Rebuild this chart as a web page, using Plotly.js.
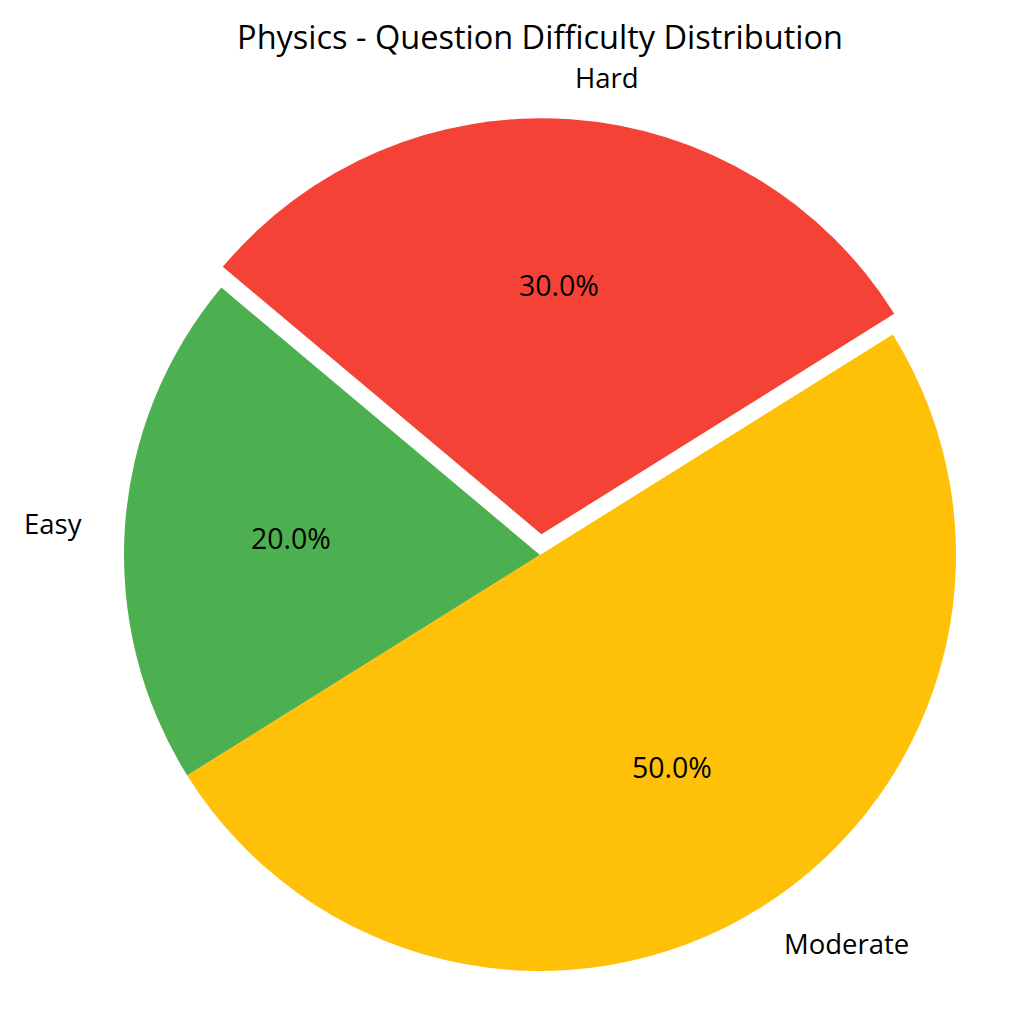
<!DOCTYPE html>
<html>
<head>
<meta charset="utf-8">
<script src="https://cdn.plot.ly/plotly-3.0.1.min.js"></script>
<style>html,body{margin:0;padding:0;background:#fff;}#chart{width:1024px;height:1024px;}</style>
</head>
<body>
<div id="chart"></div>
<script>
const categories = ["Easy", "Moderate", "Hard"];
const values = [20, 50, 30];
const colors = ["#4CAF50", "#FFC107", "#F44336"];
const pulls = [0, 0, 0.05];
const titleText = "Physics - Question Difficulty Distribution";

const W = 1024, H = 1024;
const CX = 540, CY = 555, R = 416;
const START = 140; // degrees, counterclockwise from 3 o'clock
const FONT = "'Open Sans', Roboto, sans-serif";
const maxPull = Math.max(...pulls);
const half = R * (1 + maxPull);

const total = values.reduce((a, b) => a + b, 0);
const annotations = [];
let ang = START;
values.forEach((v, i) => {
  const span = v / total * 360;
  const mid = (ang + span / 2) * Math.PI / 180;
  const off = pulls[i] * R;
  const cx = CX + off * Math.cos(mid), cy = CY - off * Math.sin(mid);
  const lx = cx + 1.1 * R * Math.cos(mid), ly = cy - 1.1 * R * Math.sin(mid);
  const px = cx + 0.6 * R * Math.cos(mid), py = cy - 0.6 * R * Math.sin(mid);
  annotations.push({
    x: lx / W, y: 1 - ly / H, xref: "paper", yref: "paper",
    text: categories[i], showarrow: false,
    xanchor: Math.cos(mid) >= 0 ? "left" : "right", yanchor: "middle",
    font: {family: FONT, size: 27.5, color: "#000"}
  });
  annotations.push({
    x: px / W, y: 1 - py / H, xref: "paper", yref: "paper",
    text: (v / total * 100).toFixed(1) + "%", showarrow: false,
    xanchor: "center", yanchor: "middle",
    font: {family: FONT, size: 28.5, color: "#000"}
  });
  ang += span;
});

// Plotly (counterclockwise): first slice spans [rotation, rotation + span0] measured clockwise from 12 o'clock
const rotation = 90 - START - values[0] / total * 360;

const data = [{
  type: "pie",
  labels: categories,
  values: values,
  marker: {colors: colors, line: {width: 0}},
  pull: pulls,
  sort: false,
  direction: "counterclockwise",
  rotation: rotation,
  textinfo: "none",
  hoverinfo: "label+percent",
  showlegend: false,
  domain: {
    x: [(CX - half) / W, (CX + half) / W],
    y: [1 - (CY + half) / H, 1 - (CY - half) / H]
  }
}];

const layout = {
  width: W, height: H,
  margin: {l: 0, r: 0, t: 0, b: 0},
  paper_bgcolor: "#fff",
  showlegend: false,
  title: {
    text: titleText,
    x: CX / W, xanchor: "center",
    y: 1 - 38 / H, yanchor: "middle",
    font: {family: FONT, size: 32.5, color: "#000"}
  },
  annotations: annotations
};

Plotly.newPlot("chart", data, layout, {displayModeBar: false, staticPlot: true});
</script>
</body>
</html>
